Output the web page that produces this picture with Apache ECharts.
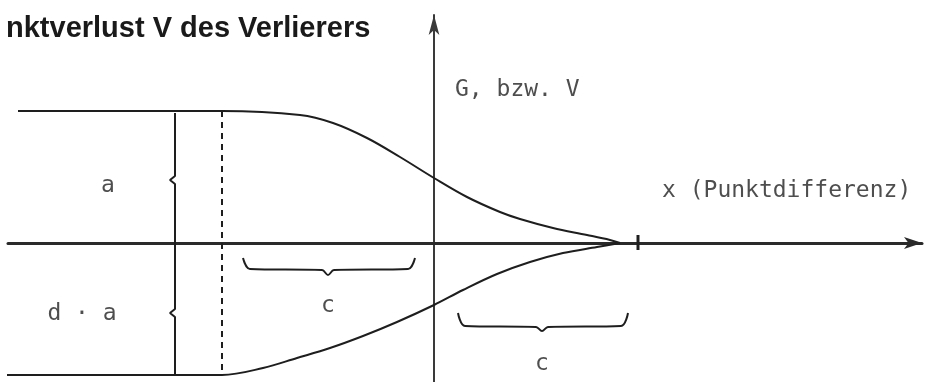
<!DOCTYPE html>
<html>
<head>
<meta charset="utf-8">
<script src="https://cdn.jsdelivr.net/npm/echarts@6/dist/echarts.min.js"></script>
<style>
  html, body { margin: 0; padding: 0; background: #fff; }
  #chart { width: 928px; height: 382px; }
</style>
</head>
<body>
<div id="chart"></div>
<script>
const upperCurve = [
  [-4.16, 1.32], [-2.12, 1.32], [-1.34, 1.28], [-1.01, 1.20], [-0.67, 1.05],
  [-0.34, 0.86], [0, 0.65], [0.33, 0.46], [0.66, 0.31], [0.86, 0.24],
  [1.19, 0.15], [1.53, 0.08], [1.76, 0.03], [1.86, 0.0]
];
const lowerCurve = [
  [-4.3, -1.32], [-2.12, -1.32], [-1.71, -1.25], [-1.37, -1.15],
  [-1.04, -1.05], [-0.71, -0.93], [-0.37, -0.79], [0, -0.62], [0.29, -0.47],
  [0.63, -0.31], [0.96, -0.19], [1.29, -0.10], [1.63, -0.04], [1.86, 0.0]
];
const dashedLine = [[-2.12, 1.32], [-2.12, -1.32]];
const heightBrace = [
  [-2.59, 1.30], [-2.59, 0.67], [-2.64, 0.63], [-2.59, 0.59],
  [-2.59, -0.66], [-2.64, -0.70], [-2.59, -0.74], [-2.59, -1.32]
];
const braceLeft = [
  [-1.91, -0.15], [-1.84, -0.26], [-1.12, -0.27], [-1.06, -0.32],
  [-1.00, -0.27], [-0.26, -0.26], [-0.19, -0.15]
];
const braceRight = [
  [0.24, -0.70], [0.31, -0.83], [1.02, -0.84], [1.08, -0.88],
  [1.14, -0.84], [1.87, -0.83], [1.94, -0.70]
];
const endTick = [[2.04, 0.08], [2.04, -0.07]];

const monoLabels = [
  [0.21, 1.53, 'G, bzw. V'],
  [2.28, 0.52, 'x (Punktdifferenz)']
];
const centerLabels = [
  [-3.26, 0.57, 'a'],
  [-3.52, -0.71, 'd \u00b7 a'],
  [-1.06, -0.63, 'c'],
  [1.08, -1.21, 'c']
];

const ink = '#1e1e1e';
const mono = '"DejaVu Sans Mono", monospace';

function lineSeries(data, extra = {}) {
  return Object.assign({
    type: 'line',
    data: data,
    showSymbol: false,
    silent: true,
    clip: false,
    lineStyle: { color: ink, width: 2 }
  }, extra);
}

const chart = echarts.init(document.getElementById('chart'));
chart.setOption({
  animation: false,
  title: {
    text: 'nktverlust V des Verlierers',
    left: 1,
    top: 9,
    textStyle: {
      fontFamily: '"Liberation Sans", Arial, sans-serif',
      fontSize: 29,
      fontWeight: 'bold',
      color: '#1a1a1a'
    }
  },
  grid: { left: 8, right: 6, top: 15, bottom: 0 },
  xAxis: {
    type: 'value',
    min: -4.26,
    max: 4.88,
    axisLine: {
      onZero: true,
      symbol: ['none', 'arrow'],
      symbolSize: [9, 18],
      lineStyle: { color: '#2a2a2a', width: 3 }
    },
    axisTick: { show: false },
    axisLabel: { show: false },
    splitLine: { show: false }
  },
  yAxis: {
    type: 'value',
    min: -1.39,
    max: 2.28,
    axisLine: {
      show: true,
      onZero: true,
      symbol: ['none', 'arrow'],
      symbolSize: [8, 20],
      lineStyle: { color: '#3a3a3a', width: 2 }
    },
    axisTick: { show: false },
    axisLabel: { show: false },
    splitLine: { show: false }
  },
  series: [
    lineSeries(upperCurve, { smooth: 0.35 }),
    lineSeries(lowerCurve, { smooth: 0.35 }),
    lineSeries(dashedLine, { lineStyle: { color: ink, width: 2, type: [6, 5] } }),
    lineSeries(heightBrace),
    lineSeries(braceLeft, { smooth: 0.35 }),
    lineSeries(braceRight, { smooth: 0.35 }),
    lineSeries(endTick, { lineStyle: { color: ink, width: 3 } }),
    {
      type: 'scatter',
      symbolSize: 0,
      silent: true,
      data: monoLabels,
      label: {
        show: true,
        position: 'inside',
        align: 'left',
        formatter: p => p.data[2],
        fontFamily: mono,
        fontSize: 23,
        color: '#222'
      }
    },
    {
      type: 'scatter',
      symbolSize: 0,
      silent: true,
      data: centerLabels,
      label: {
        show: true,
        position: 'inside',
        formatter: p => p.data[2],
        fontFamily: mono,
        fontSize: 23,
        color: '#222'
      }
    }
  ]
});
</script>
</body>
</html>
